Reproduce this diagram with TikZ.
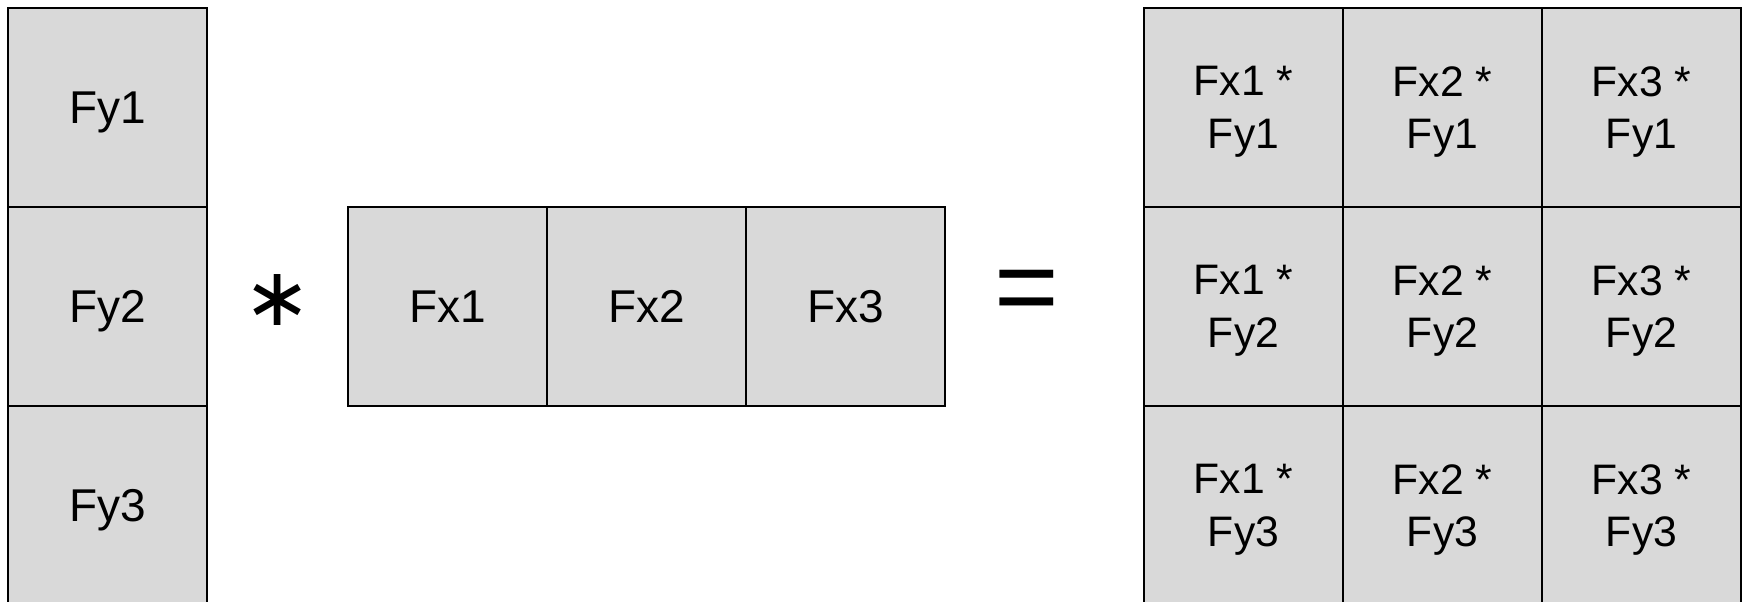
\documentclass[tikz,border=0pt]{standalone}
\usepackage{fontspec}
\setmainfont{Liberation Sans}
\newfontfamily\opfont{DejaVu Sans}
\usetikzlibrary{positioning}
\definecolor{cellgray}{RGB}{217,217,217}

\begin{document}
\begin{tikzpicture}[x=0.75pt, y=-0.75pt,
    cell/.style={draw=black, fill=cellgray, line width=1.1pt, outer sep=0pt,
      minimum size=149.25pt, inner sep=0pt, text depth=0pt,
      font=\fontsize{34.5}{40}\selectfont},
    prod/.style={cell, align=center, font=\fontsize{32}{39.4}\selectfont},
    opsign/.style={inner sep=0pt}
  ]
  \useasboundingbox (0,0) rectangle (1749,601);
  % column of Fy
  \node[cell] (fy1) at (107.5,107.5) {Fy1};
  \node[cell, below=0pt of fy1] (fy2) {Fy2};
  \node[cell, below=0pt of fy2] (fy3) {Fy3};
  % row of Fx
  \node[cell, right=105.75pt of fy2] (fx1) {Fx1};
  \node[cell, right=0pt of fx1] (fx2) {Fx2};
  \node[cell, right=0pt of fx2] (fx3) {Fx3};
  % products
  \node[prod, right=149.25pt of fx3] (g21) {Fx1 *\\Fy2};
  \node[prod, above=0pt of g21] (g11) {Fx1 *\\Fy1};
  \node[prod, below=0pt of g21] (g31) {Fx1 *\\Fy3};
  \foreach \r in {1,2,3} {
    \node[prod, right=0pt of g\r1] (g\r2) {Fx2 *\\Fy\r};
    \node[prod, right=0pt of g\r2] (g\r3) {Fx3 *\\Fy\r};
  }
  \node[opsign, font=\opfont\fontsize{61}{61}\selectfont] (times) at (278,300) {∗};
  \node[opsign, font=\fontsize{83}{83}\selectfont] (equals) at (1027,297) {=};
\end{tikzpicture}
\end{document}
